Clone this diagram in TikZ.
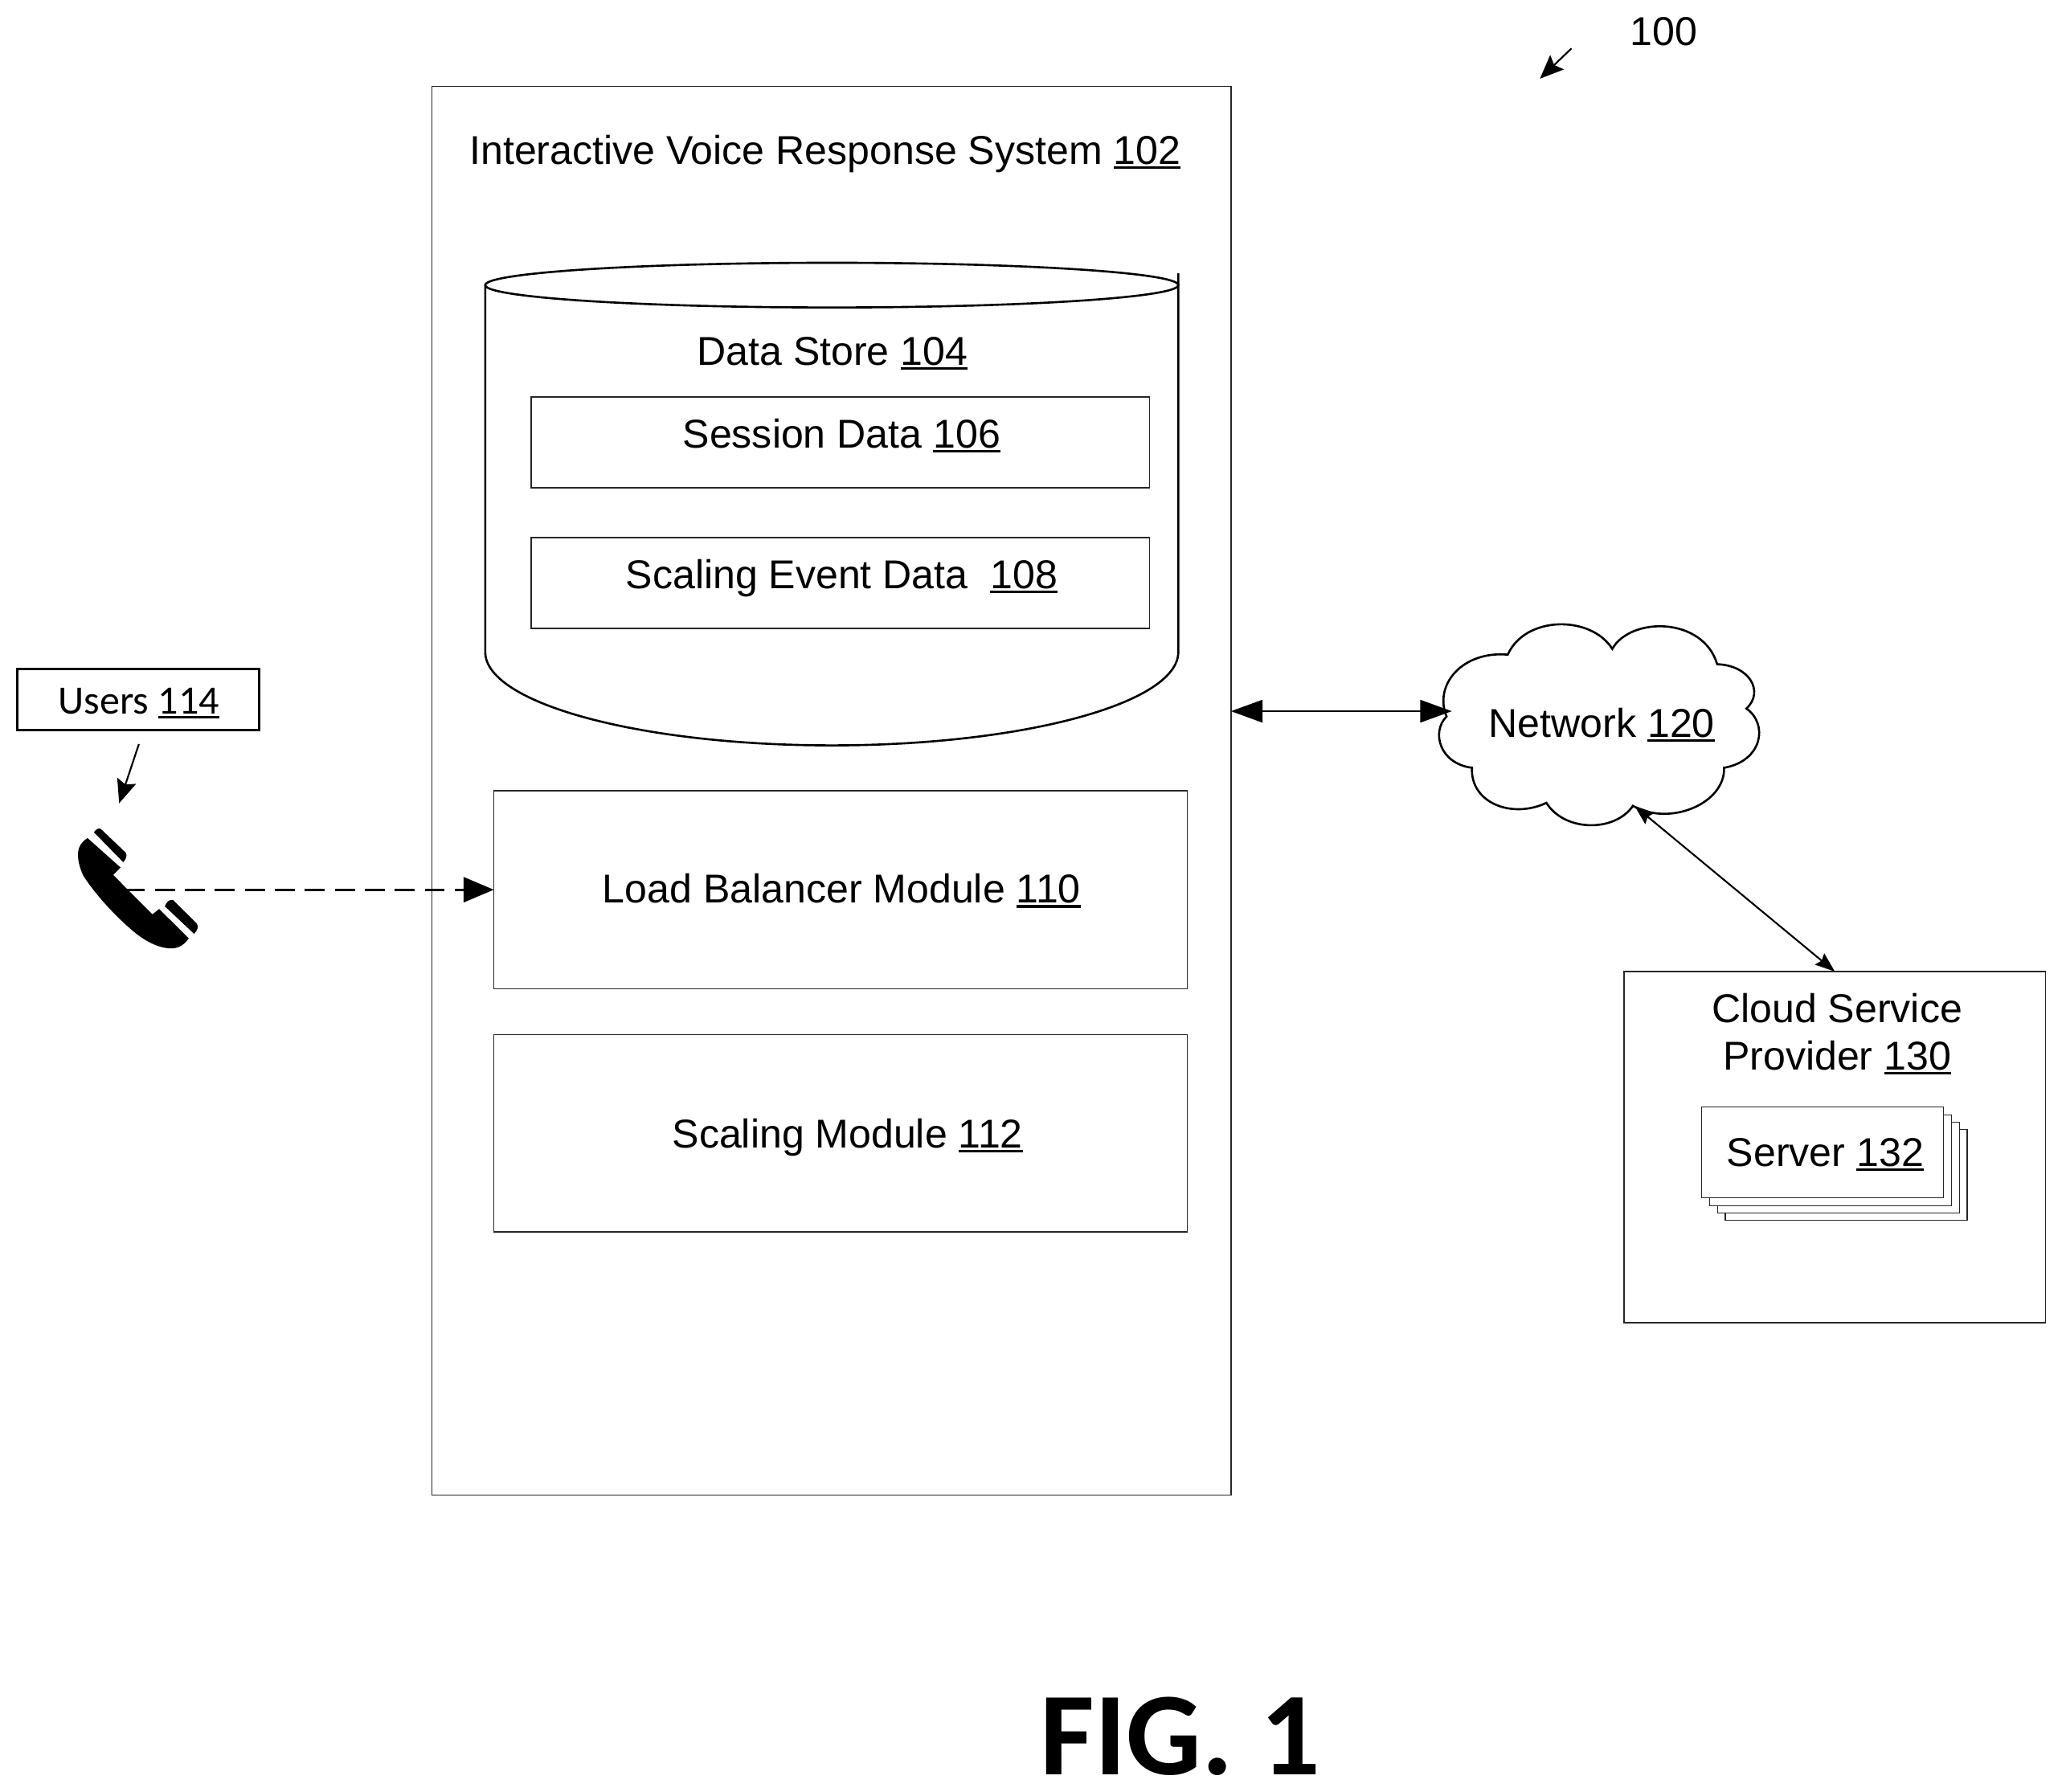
\documentclass[tikz,border=0pt]{standalone}
\usepackage{fontspec}
\setmainfont{Liberation Sans}
\newfontfamily\carl{Carlito}
\usetikzlibrary{arrows.meta}
\newcommand{\refnum}[1]{\setbox0=\hbox{#1}\rlap{\rule[-1.7pt]{\wd0}{0.95pt}}\box0 }
\tikzset{
  thinbox/.style={draw=black!85,line width=0.45pt,fill=white,rectangle,inner sep=0pt,outer sep=0pt},
  lab/.style={inner sep=0pt,outer sep=0pt,anchor=base,font=\fontsize{15.3}{18}\selectfont,text=black},
  bigarrow/.style={line width=0.8pt,{Triangle[length=12pt,width=8.5pt]}-{Triangle[length=12pt,width=8.5pt]}},
  smallarrow/.style={line width=0.65pt,{Stealth[length=7.5pt,width=5.5pt,inset=1pt]}-{Stealth[length=7.5pt,width=5.5pt,inset=1pt]}},
  onearrow/.style={line width=0.65pt,-{Stealth[length=9pt,width=7.5pt,inset=1.5pt]}},
  dasharrow/.style={line width=0.9pt,dash pattern=on 7.6pt off 3.8pt,-{Triangle[length=11.5pt,width=9.5pt]}},
  solidline/.style={draw=black,line width=0.8pt}
}
\begin{document}
\begin{tikzpicture}[x=0.5pt,y=-0.5pt]
\useasboundingbox (0,-0.8) rectangle (1568,1361.3);
\fill[white] (0,-0.8) rectangle (1568,1361.3);

% Main system
\node[thinbox,minimum width=303.75pt,minimum height=535.5pt] (ivr) at (632.25,600.5) {};
\node[lab] (ivrl) at (627.5,124) {Interactive Voice Response System \refnum{102}};

% Data store cylinder
\draw[solidline,fill=white] (369,216) -- (369,495)
  .. controls (369,534) and (487,566) .. (632.5,566)
  .. controls (778,566) and (896,534) .. (896,495) -- (896,207);
\draw[solidline] (632.5,216) ellipse [x radius=263.5,y radius=17];
\node[lab] (dsl) at (633,277) {Data Store \refnum{104}};

\node[thinbox,minimum width=235pt,minimum height=34.5pt] (sess) at (639,335.5) {};
\node[lab] (sessl) at (640,340) {Session Data \refnum{106}};
\node[thinbox,minimum width=235pt,minimum height=34.5pt] (sevt) at (639,442.5) {};
\node[lab] (sevtl) at (640,447) {Scaling Event Data\ \ \refnum{108}};

\node[thinbox,minimum width=263.75pt,minimum height=75.25pt] (lb) at (639.25,675.75) {};
\node[lab] (lbl) at (640,686) {Load Balancer Module \refnum{110}};
\node[thinbox,minimum width=263.75pt,minimum height=75pt] (scm) at (639.25,861) {};
\node[lab] (scml) at (644.5,872) {Scaling Module \refnum{112}};

% Users
\node[draw=black,line width=0.9pt,rectangle,inner sep=0pt,outer sep=0pt,minimum width=92pt,minimum height=23.25pt] (users) at (105,531.25) {};
\node[lab,font=\carl\fontsize{15.3}{18}\selectfont] (usersl) at (105.5,542) {Users \refnum{114}};
\coordinate (ustart) at (105.6,565);
\coordinate (uend) at (90.6,610);
\draw[onearrow] (ustart) -- (uend);

% Phone
\begin{scope}[shift={(0,488)},x=0.12658pt,y=-0.1017pt]
\fill[black] (263,730) -- (362,840) -- (340,868) -- (458,1015) -- (478,995) -- (567,1105)
  .. controls (550,1135) and (530,1145) .. (505,1142)
  .. controls (470,1138) and (430,1110) .. (400,1078)
  .. controls (340,1015) and (280,930) .. (250,870)
  .. controls (235,830) and (230,790) .. (238,765)
  .. controls (243,750) and (252,738) .. (263,730) -- cycle;
\fill[black] (282,708) .. controls (287,700) and (295,690) .. (303,696) -- (378,785)
  .. controls (383,795) and (378,810) .. (370,820) -- cycle;
\fill[black] (495,985) .. controls (500,970) and (508,958) .. (520,962) -- (590,1048)
  .. controls (598,1060) and (593,1075) .. (583,1088) -- cycle;
\end{scope}
\coordinate (phone) at (95,675.75);
\draw[dasharrow] (phone) -- (lb.west);

% Cloud
\draw[solidline,fill=white] (1100,544)
  .. controls (1090,520) and (1112,494) .. (1146.5,497)
  .. controls (1160,467) and (1210,467) .. (1226,492.6)
  .. controls (1240,468) and (1295,468) .. (1305.8,504.3)
  .. controls (1330,505) and (1342,525) .. (1328,538)
  .. controls (1345,550) and (1340,578) .. (1311,583)
  .. controls (1312,610) and (1270,628) .. (1241.7,612)
  .. controls (1228,632) and (1190,632) .. (1175.9,609.7)
  .. controls (1150,622) and (1118,610) .. (1119.3,583)
  .. controls (1095,580) and (1088,556) .. (1100,544) -- cycle;
\node[lab] (netl) at (1218,560) {Network \refnum{120}};
\coordinate (netin) at (1104,540);
\coordinate (netout) at (1243,612);
\draw[bigarrow] (ivr.east |- netin) -- (netin);

% Cloud service provider
\node[thinbox,minimum width=160.25pt,minimum height=133.5pt] (csp) at (1395.25,871.5) {};
\node[lab] (cspa) at (1397,777) {Cloud Service};
\node[lab] (cspb) at (1397,813) {Provider \refnum{130}};
\draw[smallarrow] (netout) -- (csp.north);

% Server stack
\node[thinbox,minimum width=92pt,minimum height=34.5pt] (sv3) at (1404,892.5) {};
\node[thinbox,minimum width=92pt,minimum height=34.5pt] (sv2) at (1398,887) {};
\node[thinbox,minimum width=92pt,minimum height=34.5pt] (sv1) at (1392,881.5) {};
\node[thinbox,minimum width=92pt,minimum height=34.5pt] (sv0) at (1386,875.5) {};
\node[lab] (svl) at (1388,886) {Server \refnum{132}};

% Reference 100
\node[lab] (ref) at (1265,34) {100};
\coordinate (rs) at (1195,36);
\coordinate (re) at (1171,59);
\draw[onearrow] (rs) -- (re);

% Figure caption
\node[lab,font=\carl\bfseries\fontsize{45}{50}\selectfont] (fig) at (897.6,1348.5) {FIG. 1};
\end{tikzpicture}
\end{document}
